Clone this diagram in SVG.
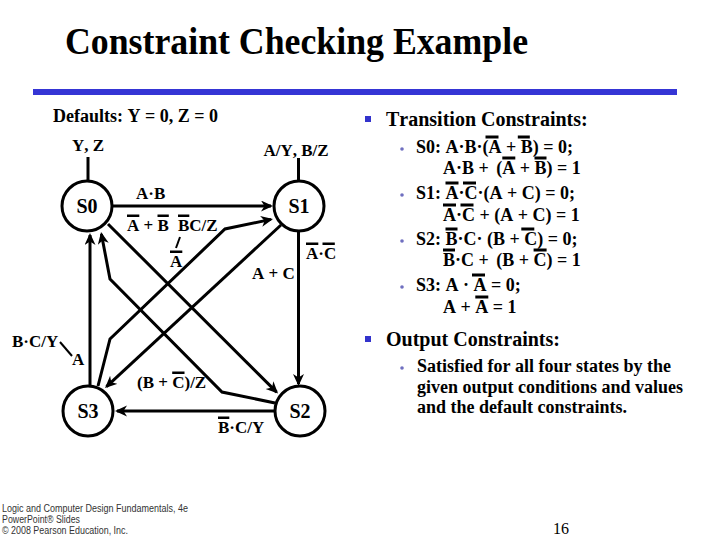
<svg xmlns="http://www.w3.org/2000/svg" width="720" height="540" viewBox="0 0 720 540">
<style>
.t{font-family:"Liberation Serif","Times New Roman",serif;font-weight:bold;font-kerning:none;fill:#000}
.lbl{font-size:17px}
.st{font-size:20px;text-anchor:middle}
.eq{font-size:18px}
.hd{font-size:20px}
.ln{fill:none;stroke:#000;stroke-width:3}
.ld{fill:none;stroke:#000;stroke-width:2}
.ar{marker-end:url(#ah)}
.node{fill:#fff;stroke:#000;stroke-width:3}
.sq{fill:#3333cc}
.dot{fill:#6f6fc0}
.ft{font-family:"Liberation Sans",Arial,sans-serif;font-size:10px;fill:#333}
</style>
<defs>
<marker id="ah" markerUnits="userSpaceOnUse" markerWidth="14" markerHeight="12" refX="10" refY="5.5" orient="auto">
<path d="M0,0 L12,5.5 L0,11 L3.5,5.5 Z" fill="#000"/>
</marker>
</defs>
<rect width="720" height="540" fill="#fff"/>
<g id="title">
<text class="t" x="65" y="54" font-size="38" textLength="463" lengthAdjust="spacingAndGlyphs">Constraint Checking Example</text>
<rect x="33" y="89" width="644" height="6" fill="#3535d5"/>
</g>
<text class="t" x="53" y="122" font-size="18">Defaults: Y = 0, Z = 0</text>
<g id="S0"><circle class="node" cx="87" cy="206" r="25"/><text class="t st" x="87" y="213">S0</text></g>
<g id="S1"><circle class="node" cx="299" cy="206" r="25"/><text class="t st" x="299" y="213">S1</text></g>
<g id="S3"><circle class="node" cx="88" cy="411" r="25"/><text class="t st" x="88" y="418">S3</text></g>
<g id="S2"><circle class="node" cx="300" cy="411" r="25"/><text class="t st" x="300" y="418">S2</text></g>
<g id="connectors">
<path class="ln" d="M88,181 V157"/>
<path class="ln" d="M298.5,181 V158"/>
<path class="ln ar" d="M112,206 H271"/>
<path class="ln ar" d="M98,386 L110,339 L225,229 L271,219.4"/>
<path class="ln ar" d="M281,225 L106.5,386.6"/>
<path class="ln ar" d="M108,224 L276.6,392.1"/>
<path class="ln ar" d="M275,403 L222,392 L110,279 L101.4,234"/>
<path class="ln ar" d="M90,386 V235"/>
<path class="ln ar" d="M298.5,231 V384"/>
<path class="ln ar" d="M275,411 H117"/>
<path class="ld" d="M60,342 L72,356"/>
<path class="ld" d="M180,237 L176,248"/>
</g>
<g id="labels" class="t lbl">
<text x="88" y="151" text-anchor="middle">Y, Z</text>
<text x="296" y="156" text-anchor="middle">A/Y, B/Z</text>
<text x="136" y="199">A·B</text>
<text x="127" y="231">A + B</text>
<rect x="127" y="214.5" width="12.3" height="2.5"/><rect x="157.5" y="214.5" width="11.3" height="2.5"/>
<text x="178" y="231">BC/Z</text>
<rect x="178" y="214.5" width="11.3" height="2.5"/>
<text x="170" y="267">A</text>
<rect x="170" y="250.5" width="12.3" height="2.5"/>
<text x="252" y="279">A + C</text>
<text x="306" y="259">A·C</text>
<rect x="306" y="242.5" width="12.3" height="2.5"/><rect x="322.5" y="242.5" width="12.3" height="2.5"/>
<text x="12" y="347">B·C/Y</text>
<text x="72" y="365">A</text>
<text x="137" y="388">(B + C)/Z</text>
<rect x="172.2" y="371.5" width="12.3" height="2.5"/>
<text x="218" y="433">B·C/Y</text>
<rect x="218" y="416.5" width="11.3" height="2.5"/>
</g>
<g id="constraints" class="t">
<rect class="sq" x="365" y="116" width="6" height="6"/>
<text class="hd" x="386" y="126">Transition Constraints:</text>
<circle class="dot" cx="402" cy="149" r="1.8"/>
<circle class="dot" cx="402" cy="195" r="1.8"/>
<circle class="dot" cx="402" cy="241" r="1.8"/>
<circle class="dot" cx="402" cy="287" r="1.8"/>
<text class="eq" x="416" y="153">S0: A·B·(A + B) = 0;</text>
<rect x="485.5" y="135.5" width="13" height="3"/><rect x="517.8" y="135.5" width="12" height="3"/>
<text class="eq" y="174"><tspan x="443">A·B +</tspan><tspan x="496.3">(A + B) = 1</tspan></text>
<rect x="502.3" y="156.5" width="13" height="3"/><rect x="534.5" y="156.5" width="12" height="3"/>
<text class="eq" x="416" y="199">S1: A·C·(A + C) = 0;</text>
<rect x="445.5" y="181.5" width="13" height="3"/><rect x="463" y="181.5" width="13" height="3"/>
<text class="eq" x="443" y="221">A·C + (A + C) = 1</text>
<rect x="443" y="203.5" width="13" height="3"/><rect x="460.5" y="203.5" width="13" height="3"/>
<text class="eq" x="416" y="245">S2: B·C· (B + C) = 0;</text>
<rect x="445.5" y="227.5" width="12" height="3"/><rect x="521.3" y="227.5" width="13" height="3"/>
<text class="eq" y="266"><tspan x="443">B·C +</tspan><tspan x="496.3">(B + C) = 1</tspan></text>
<rect x="443" y="248.5" width="12" height="3"/><rect x="533.6" y="248.5" width="13" height="3"/>
<text class="eq" x="416" y="291">S3: A · A = 0;</text>
<rect x="472" y="273.5" width="13" height="3"/>
<text class="eq" x="443" y="313">A + A = 1</text>
<rect x="475.3" y="295.5" width="13" height="3"/>
<rect class="sq" x="365" y="336" width="6" height="6"/>
<text class="hd" x="386" y="346">Output Constraints:</text>
<circle class="dot" cx="402" cy="368" r="1.8"/>
<text class="eq" x="417" y="372">Satisfied for all four states by the</text>
<text class="eq" x="417" y="393">given output conditions and values</text>
<text class="eq" x="417" y="413">and the default constraints.</text>
</g>
<g id="footer">
<text class="ft" x="2" y="512" textLength="186" lengthAdjust="spacingAndGlyphs">Logic and Computer Design Fundamentals, 4e</text>
<text class="ft" x="2" y="523" textLength="78" lengthAdjust="spacingAndGlyphs">PowerPoint® Slides</text>
<text class="ft" x="2" y="534" textLength="126" lengthAdjust="spacingAndGlyphs">© 2008 Pearson Education, Inc.</text>
<text x="553" y="534" font-family="Liberation Serif,serif" font-size="16">16</text>
</g>
</svg>
